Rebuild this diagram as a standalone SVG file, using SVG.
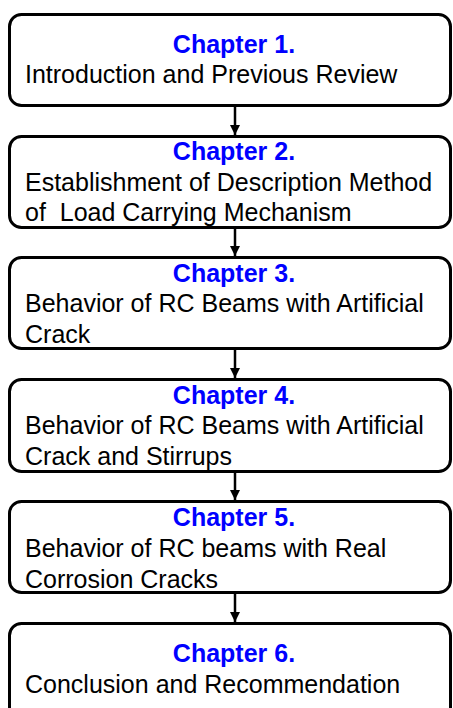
<svg xmlns="http://www.w3.org/2000/svg" width="453" height="708" viewBox="0 0 453 708">
  <style>
    .box { fill: #ffffff; stroke: #000000; stroke-width: 3; }
    .head { font-family: "Liberation Sans", Arial, sans-serif; font-size: 25px; font-weight: bold; fill: #0000ff; text-anchor: middle; }
    .body { font-family: "Liberation Sans", Arial, sans-serif; font-size: 25px; fill: #000000; white-space: pre; }
    .link { stroke: #000000; stroke-width: 2.5; fill: none; marker-end: url(#arrow); }
  </style>
  <defs>
    <marker id="arrow" viewBox="0 0 10 10" refX="10" refY="5" markerWidth="4" markerHeight="4" orient="auto" markerUnits="strokeWidth">
      <path d="M0,0 L10,5 L0,10 z" fill="#000000"/>
    </marker>
  </defs>
  <rect width="453" height="708" fill="#ffffff"/>

  <g id="connectors">
    <line class="link" x1="235" y1="107" x2="235" y2="135"/>
    <line class="link" x1="235" y1="229" x2="235" y2="256"/>
    <line class="link" x1="235" y1="350" x2="235" y2="378"/>
    <line class="link" x1="235" y1="473" x2="235" y2="500"/>
    <line class="link" x1="235" y1="594" x2="235" y2="622"/>
  </g>

  <g id="chapter1">
    <rect class="box" x="9.5" y="14.5" width="441" height="91" rx="12"/>
    <text class="head" x="234" y="53">Chapter 1.</text>
    <text class="body" x="25" y="83">Introduction and Previous Review</text>
  </g>

  <g id="chapter2">
    <rect class="box" x="9.5" y="136.5" width="441" height="91" rx="12"/>
    <text class="head" x="234" y="160">Chapter 2.</text>
    <text class="body" x="25" y="191">Establishment of Description Method</text>
    <text class="body" x="25" y="221" xml:space="preserve">of  Load Carrying Mechanism</text>
  </g>

  <g id="chapter3">
    <rect class="box" x="9.5" y="257.5" width="441" height="91" rx="12"/>
    <text class="head" x="234" y="282">Chapter 3.</text>
    <text class="body" x="25" y="312">Behavior of RC Beams with Artificial</text>
    <text class="body" x="25" y="343">Crack</text>
  </g>

  <g id="chapter4">
    <rect class="box" x="9.5" y="379.5" width="441" height="92" rx="12"/>
    <text class="head" x="234" y="404">Chapter 4.</text>
    <text class="body" x="25" y="434">Behavior of RC Beams with Artificial</text>
    <text class="body" x="25" y="465">Crack and Stirrups</text>
  </g>

  <g id="chapter5">
    <rect class="box" x="9.5" y="501.5" width="441" height="91" rx="12"/>
    <text class="head" x="234" y="526">Chapter 5.</text>
    <text class="body" x="25" y="557">Behavior of RC beams with Real</text>
    <text class="body" x="25" y="588">Corrosion Cracks</text>
  </g>

  <g id="chapter6">
    <rect class="box" x="9.5" y="623.5" width="441" height="100" rx="12"/>
    <text class="head" x="234" y="662">Chapter 6.</text>
    <text class="body" x="25" y="693">Conclusion and Recommendation</text>
  </g>
</svg>
